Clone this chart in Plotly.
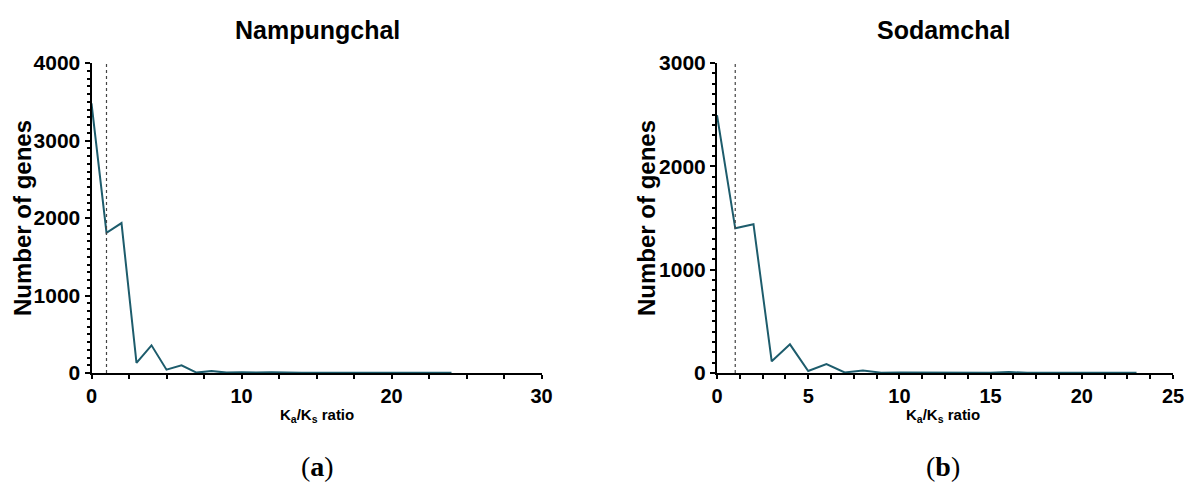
import plotly.graph_objects as go

# Ka/Ks ratio bins (integer bin starts) and gene counts per cultivar
nam_ratio = list(range(0, 25))
nam_genes = [3480, 1810, 1935, 130, 357, 43, 100, 5, 25, 5, 10, 5, 10,
             3, 3, 3, 2, 2, 2, 2, 2, 2, 2, 2, 2]

sod_ratio = list(range(0, 24))
sod_genes = [2495, 1400, 1440, 113, 277, 19, 87, 5, 25, 3, 5, 3, 8,
             2, 2, 2, 10, 2, 2, 2, 2, 2, 2, 2]

titles = ["Nampungchal", "Sodamchal"]
panel_tags = ["(<b>a</b>)", "(<b>b</b>)"]
threshold = 1  # Ka/Ks = 1 neutral line

LINE = "#1d5c6c"
FONT = "Liberation Sans, Arial, sans-serif"
W, H = 1184, 497

fig = go.Figure()

fig.add_trace(go.Scatter(x=nam_ratio, y=nam_genes, mode="lines",
                         line=dict(color=LINE, width=2), xaxis="x", yaxis="y",
                         showlegend=False))
fig.add_trace(go.Scatter(x=sod_ratio, y=sod_genes, mode="lines",
                         line=dict(color=LINE, width=2), xaxis="x2", yaxis="y2",
                         showlegend=False))

# dotted reference lines at Ka/Ks = 1
fig.add_trace(go.Scatter(x=[threshold, threshold], y=[0, 4000], mode="lines",
                         line=dict(color="#444444", width=1.2, dash="dot"),
                         xaxis="x", yaxis="y", showlegend=False))
fig.add_trace(go.Scatter(x=[threshold, threshold], y=[0, 3000], mode="lines",
                         line=dict(color="#444444", width=1.2, dash="dot"),
                         xaxis="x2", yaxis="y2", showlegend=False))

ytickfont = dict(family=FONT, size=21, color="black", weight="bold")
xtickfont = dict(family=FONT, size=20, color="black", weight="bold")
common_axis = dict(showgrid=False, zeroline=False, showline=True, linecolor="black",
                   linewidth=2, ticks="outside", tickwidth=2,
                   tickcolor="black", automargin=False,
                   ticklabeloverflow="allow")

ydom = [1 - 373 / H, 1 - 63 / H]
fig.update_layout(
    width=W, height=H,
    margin=dict(l=0, r=0, t=0, b=0),
    paper_bgcolor="white", plot_bgcolor="white",
    xaxis=dict(domain=[91.5 / W, 541.5 / W], range=[0, 30], dtick=10, anchor="y",
               ticklen=4, tickfont=xtickfont,
               minor=dict(dtick=2.5, ticks="outside", ticklen=4, tickwidth=1.5,
                          tickcolor="black"),
               **common_axis),
    yaxis=dict(domain=ydom, range=[0, 4000], dtick=1000, anchor="x", ticklen=5,
               tickfont=ytickfont,
               minor=dict(dtick=100, ticks="outside", ticklen=3, tickwidth=1.5,
                          tickcolor="black"),
               **common_axis),
    xaxis2=dict(domain=[717 / W, 1173 / W], range=[0, 25], dtick=5, anchor="y2",
                ticklen=4, tickfont=xtickfont,
                minor=dict(dtick=1.25, ticks="outside", ticklen=4, tickwidth=1.5,
                           tickcolor="black"),
                **common_axis),
    yaxis2=dict(domain=ydom, range=[0, 3000], dtick=1000, anchor="x2", ticklen=5,
                tickfont=ytickfont,
                minor=dict(dtick=100, ticks="outside", ticklen=3, tickwidth=1.5,
                           tickcolor="black"),
                **common_axis),
)

ann = []
for cx, title, tag, ytx in [(317, titles[0], panel_tags[0], 22),
                            (943, titles[1], panel_tags[1], 646)]:
    base = dict(xref="paper", yref="paper", showarrow=False,
                xanchor="center", yanchor="middle")
    ann.append(dict(text=f"<b>{title}</b>", x=cx / W, y=1 - 30 / H,
                    font=dict(family=FONT, size=25, color="black"), **base))
    ann.append(dict(text="<b>K<sub>a</sub>/K<sub>s</sub> ratio</b>", x=cx / W,
                    y=1 - 415 / H,
                    font=dict(family=FONT, size=15, color="black"), **base))
    ann.append(dict(text=tag, x=cx / W, y=1 - 466 / H,
                    font=dict(family="Liberation Serif, DejaVu Serif, serif",
                              size=28, color="black"), **base))
    ann.append(dict(text="<b>Number of genes</b>", x=ytx / W, y=1 - 218 / H,
                    textangle=-90,
                    font=dict(family=FONT, size=24, color="black"), **base))
fig.update_layout(annotations=ann)

fig.write_html("out.html")
